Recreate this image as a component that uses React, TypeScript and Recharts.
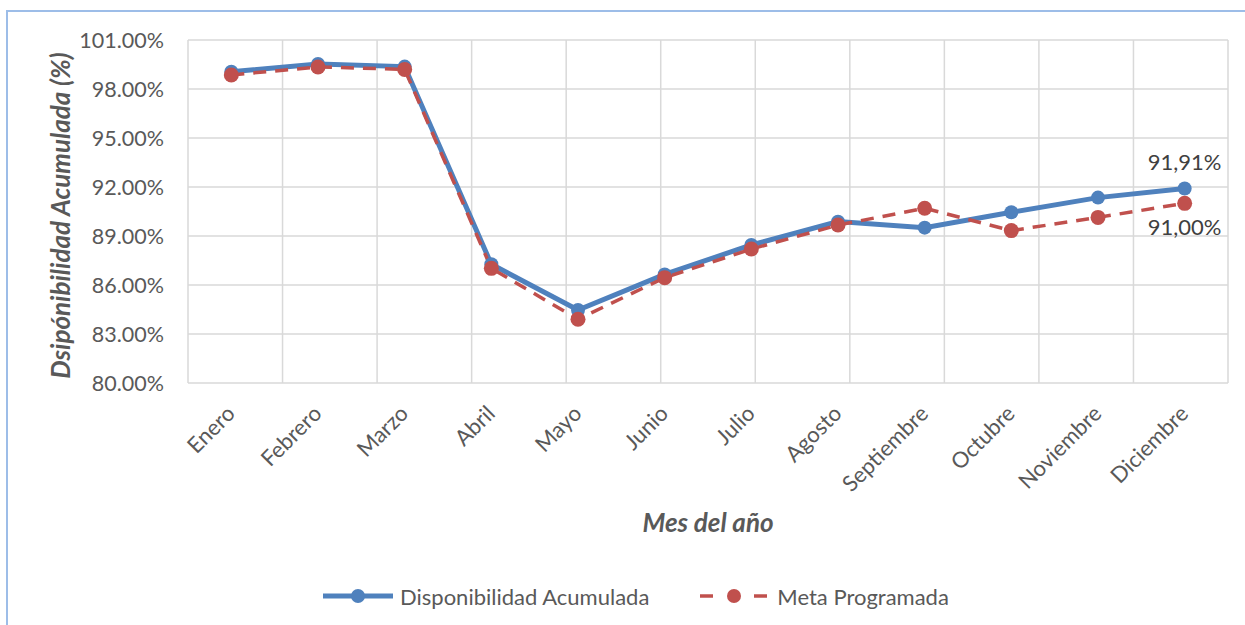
import React from 'react';
import { LineChart, Line, XAxis, YAxis, CartesianGrid, Legend, LabelList } from 'recharts';

const months = ['Enero', 'Febrero', 'Marzo', 'Abril', 'Mayo', 'Junio', 'Julio', 'Agosto', 'Septiembre', 'Octubre', 'Noviembre', 'Diciembre'];
const disponibilidad = [99.06, 99.53, 99.37, 87.27, 84.47, 86.65, 88.45, 89.88, 89.51, 90.45, 91.35, 91.91];
const meta = [98.86, 99.35, 99.2, 87.02, 83.9, 86.45, 88.2, 89.67, 90.7, 89.33, 90.14, 91.0];
const yTicks = [80, 83, 86, 89, 92, 95, 98, 101];
const gridTicks = [0, 1, 2, 3, 4, 5, 6, 7, 8, 9, 10, 11, 12];

const data = months.map((m, i) => ({ month: m, disp: disponibilidad[i], meta: meta[i] }));

const FONT = 'Lato, "Open Sans", sans-serif';
const TEXT = '#595959';
const BLUE = '#4F81BD';
const RED = '#C0504D';

const MonthTick = ({ x, y, payload }: any) => {
  const px = x + 5;
  const py = y + 24;
  return (
    <text x={px} y={py} transform={`rotate(-45, ${px}, ${py})`} textAnchor="end" fill={TEXT} fontSize={22} fontFamily={FONT}>
      {payload.value}
    </text>
  );
};

const lastLabel = (above: boolean) => (props: any) => {
  const { x, y, index, value } = props;
  if (index !== months.length - 1) return null;
  return (
    <text x={x} y={above ? y - 18 : y + 32} textAnchor="middle" fill="#404040" fontSize={22} fontFamily={FONT}>
      {value.toFixed(2).replace('.', ',')}%
    </text>
  );
};

const LegendContent = () => (
  <div style={{ height: 82, paddingTop: 24, boxSizing: 'border-box', display: 'flex', alignItems: 'center', paddingLeft: 323, fontFamily: FONT, fontSize: 22, color: TEXT }}>
    <svg width={70} height={16}>
      <line x1={0} y1={8} x2={70} y2={8} stroke={BLUE} strokeWidth={5} />
      <circle cx={35} cy={8} r={7} fill={BLUE} />
    </svg>
    <span style={{ marginLeft: 7 }}>Disponibilidad Acumulada</span>
    <svg width={68} height={16} style={{ marginLeft: 51 }}>
      <line x1={0} y1={8} x2={13} y2={8} stroke={RED} strokeWidth={3.5} />
      <circle cx={34} cy={8} r={7} fill={RED} />
      <line x1={54} y1={8} x2={67} y2={8} stroke={RED} strokeWidth={3.5} />
    </svg>
    <span style={{ marginLeft: 9 }}>Meta Programada</span>
  </div>
);

export default function App() {
  return (
    <div style={{ position: 'absolute', left: 0, top: 0, width: 1245, height: 625, overflow: 'hidden', background: '#fff' }}>
      <div style={{ position: 'absolute', left: 6, top: 10, width: 1260, height: 640, border: '2px solid #9DBDE8', boxSizing: 'border-box' }} />
      <div style={{ position: 'absolute', left: 0, top: 0 }}>
        <LineChart width={1245} height={625} data={data} margin={{ top: 40, right: 17, bottom: 0, left: 0 }}>
          <CartesianGrid xAxisId="grid" stroke="#D9D9D9" strokeWidth={1.5} />
          <XAxis
            dataKey="month"
            scale="band"
            interval={0}
            height={160}
            tick={<MonthTick />}
            tickLine={false}
            axisLine={false}
            label={{
              content: ({ viewBox }: any) => (
                <text x={viewBox.x + viewBox.width / 2} y={viewBox.y + 149} textAnchor="middle" fill={TEXT} fontSize={26} fontWeight="bold" fontStyle="italic" fontFamily={FONT}>
                  Mes del año
                </text>
              ),
            }}
          />
          <XAxis xAxisId="grid" type="number" domain={[0, 12]} ticks={gridTicks} hide allowDataOverflow />
          <YAxis
            width={188}
            domain={[80, 101]}
            ticks={yTicks}
            interval={0}
            tickFormatter={(v: number) => v.toFixed(2) + '%'}
            tick={{ fill: TEXT, fontSize: 21.5, fontFamily: FONT }}
            tickLine={false}
            axisLine={false}
            tickMargin={18}
            label={{
              content: ({ viewBox }: any) => {
                const cx = 60;
                const cy = viewBox.y + viewBox.height / 2 + 4;
                return (
                  <text x={cx} y={cy} transform={`rotate(-90, ${cx}, ${cy})`} textAnchor="middle" dominantBaseline="central" fill={TEXT} fontSize={26} fontWeight="bold" fontStyle="italic" fontFamily={FONT}>
                    Dsipónibilidad Acumulada (%)
                  </text>
                );
              },
            }}
          />
          <Legend verticalAlign="bottom" content={<LegendContent />} />
          <Line
            dataKey="disp"
            stroke={BLUE}
            strokeWidth={5}
            dot={{ r: 7, fill: BLUE, stroke: BLUE, strokeWidth: 0 }}
            activeDot={false}
            isAnimationActive={false}
          >
            <LabelList dataKey="disp" content={lastLabel(true)} />
          </Line>
          <Line
            dataKey="meta"
            stroke={RED}
            strokeWidth={3.5}
            strokeDasharray="13 9"
            dot={{ r: 7.5, fill: RED, stroke: RED, strokeWidth: 0, strokeDasharray: '' }}
            activeDot={false}
            isAnimationActive={false}
          >
            <LabelList dataKey="meta" content={lastLabel(false)} />
          </Line>
        </LineChart>
      </div>
    </div>
  );
}
